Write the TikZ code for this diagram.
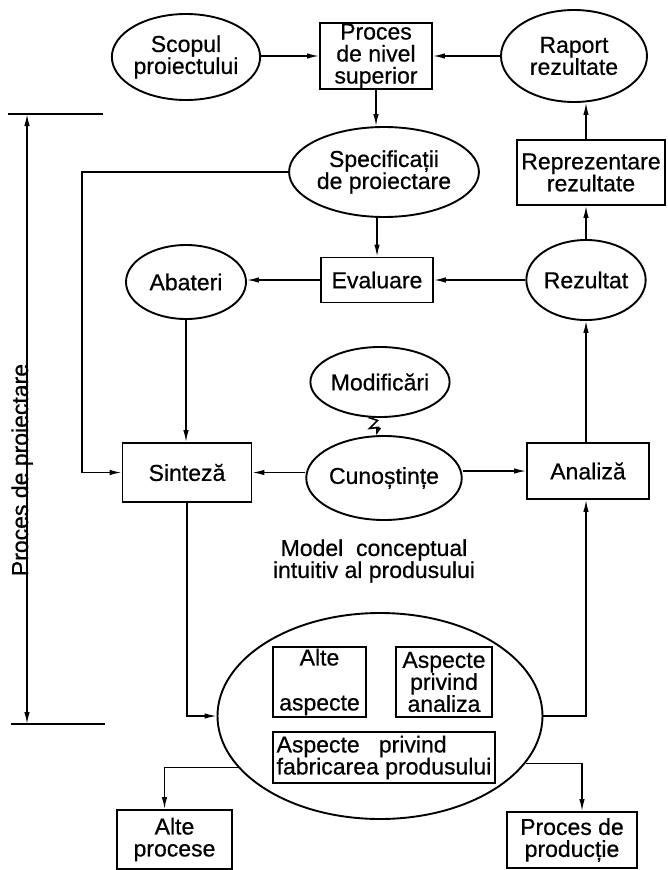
\documentclass[tikz,border=0pt]{standalone}
\usepackage{fontspec}
\setmainfont{Liberation Sans}[FakeBold=0.6]
\usetikzlibrary{shapes.geometric,arrows.meta,calc}
\newcommand\diagfont{\fontsize{23}{22}\selectfont}
\begin{document}
\begin{tikzpicture}[x=1pt,y=-1pt,
  oval/.style={ellipse, draw, line width=1.9pt, inner sep=0pt, align=center, font=\diagfont},
  blk/.style={rectangle, draw, line width=1.9pt, inner sep=0pt, align=center, font=\diagfont},
  wire/.style={line width=1.4pt},
  arr/.style={wire, -{Latex[length=12pt,width=5.5pt]}}]
\useasboundingbox (0,0) rectangle (668,870);

% top row
\node[oval, minimum width=146, minimum height=86] (scop) at (186,57) {Scopul\\proiectului};
\node[blk, minimum width=112, minimum height=66] (sup) at (376,56) {Proces\\de nivel\\superior};
\node[oval, minimum width=146, minimum height=92] (raport) at (574,56) {Raport\\rezultate};

% second row
\node[oval, minimum width=146, minimum height=90] (spec) at (384,172) {Specificații\\de proiectare};
\node[blk, minimum width=148, minimum height=65] (repr) at (591,172.5) {Reprezentare\\rezultate};

% third row
\node[oval, minimum width=120, minimum height=74] (abateri) at (186,282) {Abateri};
\node[blk, minimum width=112, minimum height=45] (eval) at (377,280) {Evaluare};
\node[oval, minimum width=119, minimum height=80] (rezultat) at (586,280) {Rezultat};

% middle
\node[oval, minimum width=118, minimum height=70] (modif) at (380,382) {Modificări};
\node[oval, minimum width=119, minimum height=84] (cunos) at (384,478) {Cunoștințe};
\node[blk, minimum width=129, minimum height=59] (sinteza) at (187,472.5) {Sinteză};
\node[blk, minimum width=122, minimum height=56] (analiza) at (588,471) {Analiză};
\node[font=\diagfont, align=center] (model) at (374,561) {Model\ \ conceptual\\intuitiv al produsului};

% conceptual model of the product
\node[ellipse, draw, line width=1.9pt, minimum width=325, minimum height=206] (big) at (380,716) {};
\node[blk, minimum width=93, minimum height=70] (alteasp) at (319.5,682) {Alte\\[23pt]aspecte};
\node[blk, minimum width=96, minimum height=70] (aspan) at (444,682) {Aspecte\\privind\\analiza};
\node[blk, minimum width=222, minimum height=51, align=left] (fabr) at (384,757.5) {Aspecte\ \ \ privind\\fabricarea produsului};

% bottom row
\node[blk, minimum width=115, minimum height=59] (altep) at (174.5,839.5) {Alte\\procese};
\node[blk, minimum width=130, minimum height=56] (prod) at (572,840) {Proces de\\producție};

% connectors
\draw[arr] (scop.east |- sup) -- (sup.west);
\draw[arr] (raport.west |- sup) -- (sup.east);
\draw[arr] (sup.south) -- (sup.south |- spec.north);
\draw[arr] (eval.north |- spec.south) -- (eval.north);
\draw[arr] (rezultat.west |- eval) -- (eval.east);
\draw[arr] (eval.west) -- (eval.west -| abateri.east);
\draw[arr] (rezultat.north) -- (rezultat.north |- repr.south);
\draw[arr] (rezultat.north |- repr.north) -- (rezultat.north |- raport.south);
\coordinate (feedx) at (82,0);
\draw[arr] (spec.west) -- (spec.west -| feedx) |- (sinteza.west);
\draw[arr] (abateri.south) -- (abateri.south |- sinteza.north);
\draw[arr] (cunos.west |- sinteza) -- (sinteza.east);
\draw[arr] (cunos.east |- analiza) -- (analiza.west);
\draw[arr] (rezultat.south |- analiza.north) -- (rezultat.south);
\draw[arr] (sinteza.south) |- (big.west);
\draw[arr] (big.east) -| (rezultat.south |- analiza.south);
\draw[arr] (big.200) -| ($(altep.north)+(-10,0)$);
\draw[arr] (big.342) -| ($(prod.north)+(10,0)$);

% lightning link between Modificari and Cunostinte
\draw[line width=1.6pt, -{Latex[length=9pt,width=6pt]}] (modif.252) -- ++(9,3) -- ++(-8,8) -- ++(9,-1) -- ($(cunos.north)+(-8,1)$);

% dimension line of the design process
\coordinate (dtop) at (27,114);
\coordinate (dbot) at (27,724);
\draw[wire] ($(dtop)+(-19,0)$) -- ++(95,0);
\draw[wire] ($(dbot)+(-16,0)$) -- ++(94,0);
\draw[wire, {Latex[length=12pt,width=5.5pt]}-{Latex[length=12pt,width=5.5pt]}] (dtop) -- (dbot);
\node[rotate=90, anchor=base, font=\diagfont, inner sep=0pt] (dimlabel) at (28,470) {Proces de proiectare};
\end{tikzpicture}
\end{document}
